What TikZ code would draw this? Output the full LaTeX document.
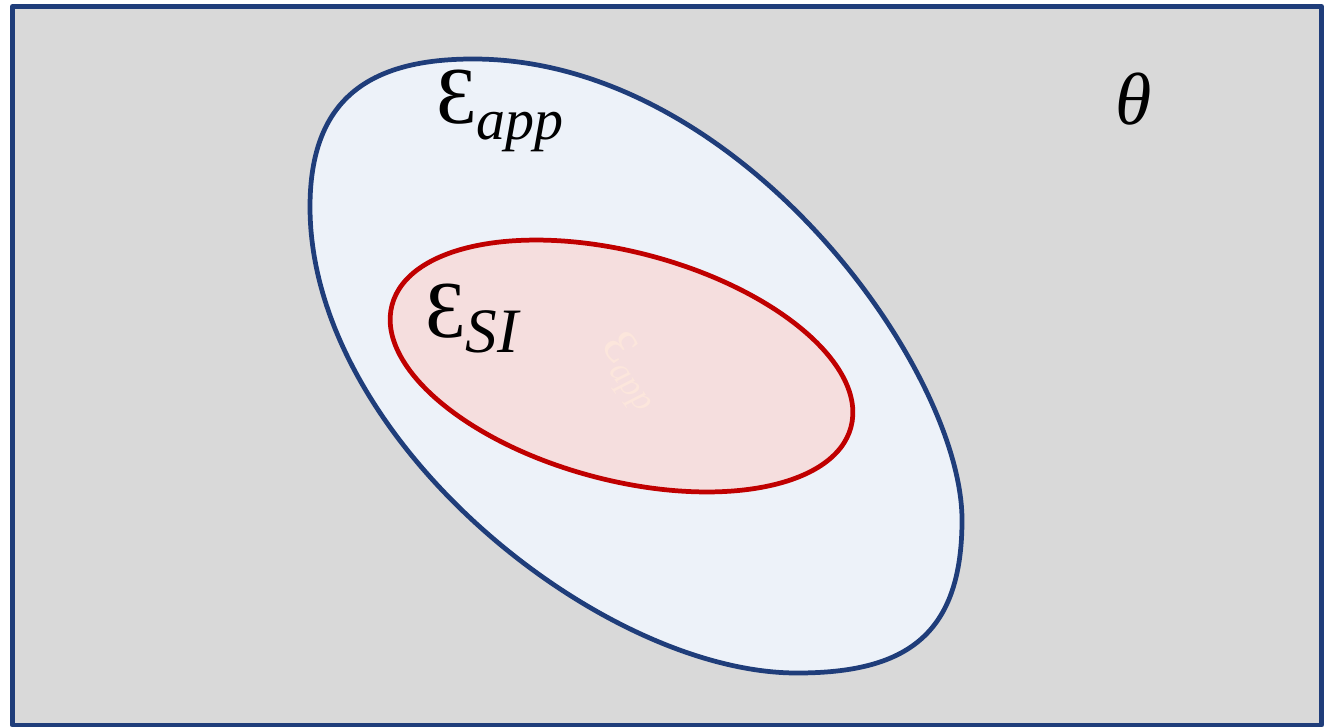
\documentclass[tikz,border=0pt]{standalone}
\usepackage{fontspec}
\setmainfont{Liberation Serif}
\definecolor{frameblue}{RGB}{31,61,122}
\definecolor{setgray}{RGB}{217,217,217}
\definecolor{appfill}{RGB}{237,242,249}
\definecolor{sired}{RGB}{192,0,0}
\definecolor{sifill}{RGB}{245,222,222}
\definecolor{ghost}{RGB}{252,230,220}
% set name: size of E, size of index, drop of index, index
\newcommand{\setlbl}[4]{{\fontsize{#1}{#1}\selectfont Ɛ}\raisebox{-#3}{\fontsize{#2}{#2}\selectfont\itshape #4}}
\begin{document}
\begin{tikzpicture}[x=0.02cm, y=-0.02cm, line join=round]
    \useasboundingbox (0,0) rectangle (1327,727);

    % parameter space
    \draw[frameblue, line width=2.8pt, fill=setgray] (12.5,6.5) rectangle (1321.5,725);

    % approximation set
    \draw[frameblue, line width=2.7pt, fill=appfill]
        (473,59) .. controls (740,59) and (962,370) .. (962,520)
                 .. controls (962,636) and (905,673) .. (797,673)
                 .. controls (601,673) and (310,439) .. (310,207)
                 .. controls (310,100) and (368,59) .. cycle;
    % the subset
    \draw[sired, line width=2.7pt, fill=sifill]
        (621.5,366) ellipse[x radius=4.75cm, y radius=2.28cm, rotate=-14.9];

    % labels
    \node[anchor=base west, inner sep=0pt] (app) at (436,123) {\setlbl{46}{33}{9.5pt}{app}};
    \node[anchor=base west, inner sep=0pt] (si) at (425,337) {\setlbl{46}{36}{9pt}{SI}};
    \node[anchor=base, inner sep=0pt] (theta) at (1134,124) {\fontsize{42}{42}\selectfont\itshape θ};
    \node[ghost, rotate=-53, inner sep=0pt] (ghostapp) at (630,372) {\setlbl{28}{20}{5pt}{app}};
\end{tikzpicture}
\end{document}
